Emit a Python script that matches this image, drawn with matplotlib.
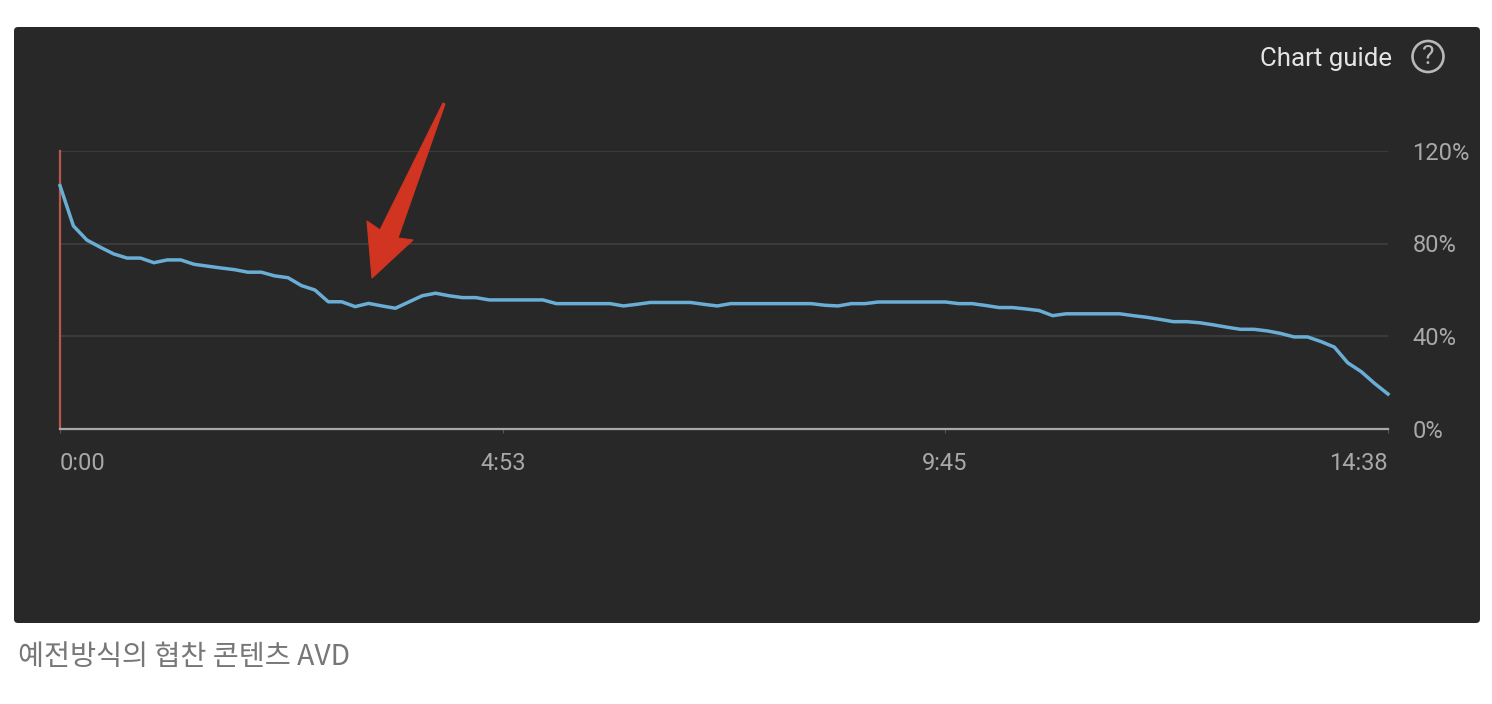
import matplotlib
matplotlib.use("Agg")
import matplotlib.pyplot as plt
from matplotlib.patches import Circle, FancyBboxPatch, Polygon
import numpy as np

plt.rcParams['font.family'] = ['Roboto', 'DejaVu Sans']

# audience retention in %, 100 samples along the video
retention = [
    105, 87.6, 81.5, 78.4, 75.5, 73.7, 73.7, 71.7, 72.9, 72.9,
    71, 70.2, 69.4, 68.7, 67.6, 67.6, 66, 65.2, 61.8, 59.9,
    54.8, 54.8, 52.7, 54.1, 53, 52, 54.7, 57.4, 58.5, 57.4,
    56.6, 56.6, 55.6, 55.6, 55.6, 55.6, 55.6, 54, 54, 54,
    54, 54, 53, 53.7, 54.5, 54.5, 54.5, 54.5, 53.7, 53,
    54, 54, 54, 54, 54, 54, 54, 53.3, 53, 54,
    54, 54.7, 54.7, 54.7, 54.7, 54.7, 54.7, 54, 54, 53.2,
    52.3, 52.3, 51.7, 51, 48.8, 49.6, 49.6, 49.6, 49.6, 49.6,
    48.8, 48.1, 47.2, 46.2, 46.2, 45.7, 44.8, 43.8, 42.9, 42.9,
    42.2, 41.1, 39.6, 39.6, 37.6, 35.2, 28.4, 24.6, 19.5, 14.9,
]
duration = 878  # seconds, 14:38
time_ticks = [0, 293, 585, 878]
time_labels = ["0:00", "4:53", "9:45", "14:38"]
pct_ticks = [0, 40, 80, 120]
pct_labels = ["0%", "40%", "80%", "120%"]

W, H = 1492, 704
PANEL = "#282828"

fig = plt.figure(figsize=(W / 100, H / 100), dpi=100, facecolor="white")

# page layer, in pixel coordinates
bg = fig.add_axes([0, 0, 1, 1], zorder=0)
bg.set_xlim(0, W)
bg.set_ylim(H, 0)
bg.axis("off")
bg.add_patch(FancyBboxPatch((17, 30), 1460, 590, boxstyle="round,pad=3,rounding_size=4",
                            fc=PANEL, ec="none"))
bg.text(18, 657, "예전방식의 협찬 콘텐츠 AVD", fontsize=20.4, color="#777777", va="center",
        family=['Noto Sans CJK KR', 'DejaVu Sans'])

# chart
left, right, top, bottom = 60, 1388, 151, 428.5
ax = fig.add_axes([left / W, 1 - bottom / H, (right - left) / W, (bottom - top) / H], zorder=1)
ax.patch.set_alpha(0)
x = np.linspace(0, duration, len(retention))
ax.plot(x, retention, color="#6aaed6", lw=2.5, solid_joinstyle="round", clip_on=False, zorder=3)
ax.set_xlim(0, duration)
ax.set_ylim(0, 120)

ax.set_yticks(pct_ticks)
ax.set_yticklabels(pct_labels, fontsize=17, color="#a8a8a8")
ax.yaxis.tick_right()
ax.tick_params(axis="y", length=0, pad=17.5)
ax.set_xticks(time_ticks)
ax.set_xticklabels(time_labels, fontsize=17, color="#a8a8a8")
ax.tick_params(axis="x", length=3, width=0.8, color="#555555", pad=14)
xlabels = ax.get_xticklabels()
xlabels[0].set_ha("left")
xlabels[-1].set_ha("right")
ax.grid(axis="y", color="#3c3c3c", lw=1.4)
ax.set_axisbelow(True)

for side in ["top", "right"]:
    ax.spines[side].set_visible(False)
ax.spines["left"].set_color("#b8584c")
ax.spines["left"].set_linewidth(1.6)
ax.spines["bottom"].set_color("#a8a8a8")
ax.spines["bottom"].set_linewidth(1.6)

# things on top of the chart, pixel coordinates again
top_layer = fig.add_axes([0, 0, 1, 1], zorder=2)
top_layer.set_xlim(0, W)
top_layer.set_ylim(H, 0)
top_layer.axis("off")
top_layer.add_patch(Polygon([(443, 103), (445, 104), (398, 238), (413, 240), (372, 278),
                             (367, 221), (380, 230)], fc="#d13420", ec="#d13420", lw=0.8))
top_layer.text(1392, 59, "Chart guide", fontsize=18.6, color="#e4e4e4", ha="right", va="center")
top_layer.add_patch(Circle((1428, 56.5), 15.5, fc="none", ec="#b8b8b8", lw=1.9))
top_layer.text(1428, 57, "?", fontsize=19, color="#b8b8b8", ha="center", va="center")

fig.savefig("out.png", dpi=100, facecolor="white")
